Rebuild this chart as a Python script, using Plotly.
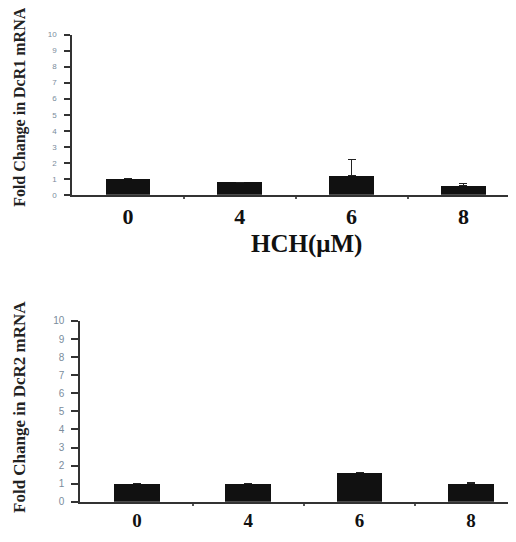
import plotly.graph_objects as go

categories = ["0", "4", "6", "8"]
dcr1_values = [1.0, 0.8, 1.2, 0.6]
dcr1_errors = [None, None, 1.0, 0.1]
dcr2_values = [1.0, 1.0, 1.6, 1.0]
dcr2_errors = [None, None, None, 0.05]
y_ticks = list(range(0, 11))

# page body has an 8px margin; size the figure so it fits the window
OFF = 8
W, H = 516 - OFF, 542 - OFF


def fx(px):
    return (px - OFF) / W


def fy(py):
    return 1 - (py - OFF) / H


xpos = list(range(len(categories)))


def minus_of(errs):
    return [None if e is None else 0 for e in errs]


fig = go.Figure()
fig.add_trace(go.Bar(
    x=xpos, y=dcr1_values, width=0.4, marker=dict(color="#111111", line=dict(width=0)),
    error_y=dict(type="data", symmetric=False, array=dcr1_errors, arrayminus=minus_of(dcr1_errors),
                 color="#222222", thickness=1, width=4),
    xaxis="x", yaxis="y", showlegend=False))
fig.add_trace(go.Bar(
    x=xpos, y=dcr2_values, width=0.41, marker=dict(color="#111111", line=dict(width=0)),
    error_y=dict(type="data", symmetric=False, array=dcr2_errors, arrayminus=minus_of(dcr2_errors),
                 color="#222222", thickness=1, width=4),
    xaxis="x2", yaxis="y2", showlegend=False))

serif = "Liberation Serif, Times New Roman, serif"
tickfont_top = dict(family=serif, size=22, color="#111111")
tickfont_bot = dict(family=serif, size=19, color="#111111")
ytickfont_top = dict(family="Liberation Sans, Arial, sans-serif", size=8, color="#7a8c9c")
ytickfont_bot = dict(family="Liberation Sans, Arial, sans-serif", size=10, color="#7a8c9c")

axis_common = dict(showgrid=False, zeroline=False, showline=True, linecolor="#333333", linewidth=1.5)

fig.update_layout(
    width=W, height=H, margin=dict(l=0, r=0, t=0, b=0),
    plot_bgcolor="white", paper_bgcolor="white", bargap=0,
    xaxis=dict(domain=[fx(72), 1], range=[-0.5, 3.47], tickmode="array", tickvals=xpos,
               ticktext=["<b>%s</b>" % c for c in categories], ticks="", tickfont=tickfont_top,
               ticklabelstandoff=1, anchor="y",
               minor=dict(tickvals=[0.5, 1.5, 2.5], ticks="outside", ticklen=2, tickwidth=1.5, tickcolor="#555555"),
               **axis_common),
    yaxis=dict(domain=[fy(193), fy(29)], range=[0, 10], tickvals=y_ticks, ticks="outside",
               ticklen=6, tickwidth=1.5, tickcolor="#333333", tickfont=ytickfont_top, anchor="x",
               ticklabelstandoff=6, **axis_common),
    xaxis2=dict(domain=[fx(80), 1], range=[-0.512, 3.405], tickmode="array", tickvals=xpos,
                ticktext=["<b>%s</b>" % c for c in categories], ticks="", tickfont=tickfont_bot,
                ticklabelstandoff=1, anchor="y2",
                minor=dict(tickvals=[0.5, 1.5, 2.5], ticks="outside", ticklen=2, tickwidth=1.5, tickcolor="#555555"),
                **axis_common),
    yaxis2=dict(domain=[fy(507), fy(322)], range=[0, 10], tickvals=y_ticks, ticks="outside",
                ticklen=7, tickwidth=1.5, tickcolor="#333333", tickfont=ytickfont_bot, anchor="x2",
                ticklabelstandoff=5, **axis_common),
)

fig.add_annotation(text="<b>HCH(μM)</b>", xref="paper", yref="paper", x=fx(306), y=fy(243),
                   showarrow=False, font=dict(family=serif, size=25, color="#111111"),
                   xanchor="center", yanchor="middle")
fig.add_annotation(text="<b>Fold Change in DcR1 mRNA</b>", xref="paper", yref="paper",
                   x=fx(20), y=fy(103), textangle=-90, showarrow=False,
                   font=dict(family=serif, size=16, color="#222222"),
                   xanchor="center", yanchor="middle")
fig.add_annotation(text="<b>Fold Change in DcR2 mRNA</b>", xref="paper", yref="paper",
                   x=fx(20), y=fy(410), textangle=-90, showarrow=False,
                   font=dict(family=serif, size=17, color="#222222"),
                   xanchor="center", yanchor="middle")

fig.write_html("out.html")
